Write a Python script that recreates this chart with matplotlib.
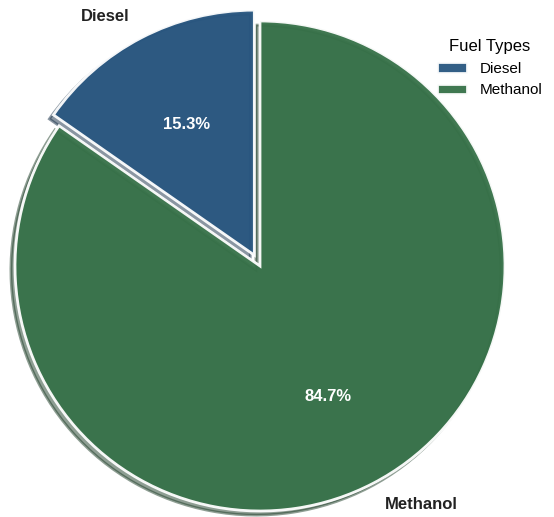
import matplotlib
matplotlib.use("Agg")
import matplotlib.pyplot as plt

plt.rcParams['font.family'] = ['Liberation Sans', 'DejaVu Sans']

labels = ["Diesel", "Methanol"]
values = [15.3, 84.7]
colors = ["#285680", "#367148"]
explode = [0.05, 0.0]

fig = plt.figure(figsize=(5.54, 5.17), dpi=100)
ax = fig.add_axes([0, 0, 1, 1])
wedges, texts, autotexts = ax.pie(
    values, labels=labels, colors=colors, explode=explode,
    autopct='%1.1f%%', startangle=90,
    shadow={'ox': -0.012, 'oy': -0.012, 'shade': 0.45},
    wedgeprops=dict(edgecolor='white', linewidth=2, alpha=0.95),
    textprops=dict(fontsize=12, fontweight='bold', color='#222222'),
    pctdistance=0.6, labeldistance=1.1)
for t in autotexts:
    t.set_color('white')
    t.set_fontsize(12)
    t.set_fontweight('bold')

r = 245.0
cx, cy = 260.0, 266.0
ax.set_xlim(-cx / r, (554 - cx) / r)
ax.set_ylim(-(517 - cy) / r, cy / r)
ax.set_aspect('auto')
ax.axis('off')

leg = ax.legend(wedges, labels, title="Fuel Types", loc='upper right',
                bbox_to_anchor=(0.998, 0.945), frameon=False, fontsize=11,
                title_fontsize=12, borderaxespad=0.3)
fig.savefig("out.png", dpi=100)
